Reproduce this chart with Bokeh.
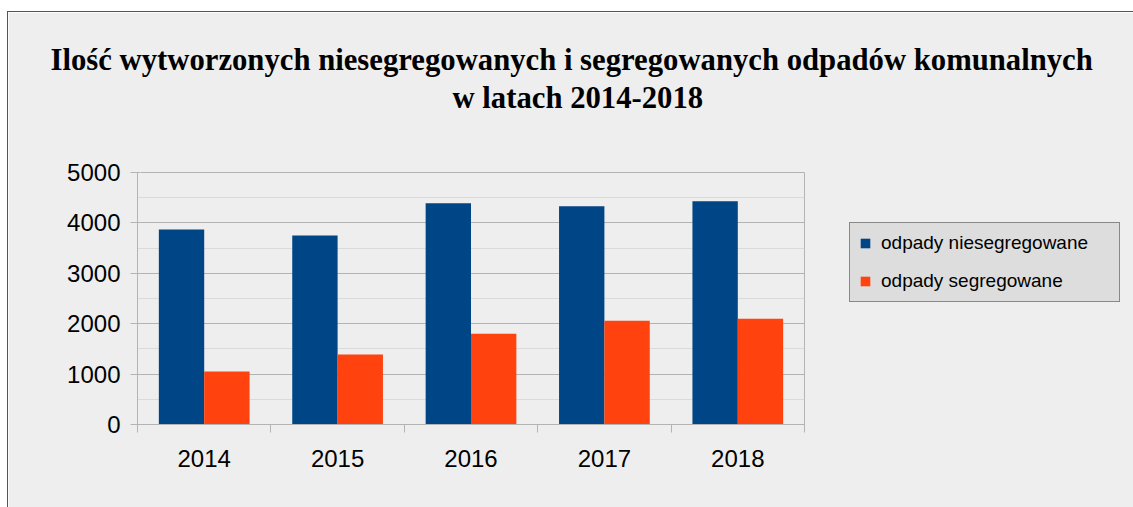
from bokeh.plotting import figure
from bokeh.models import (ColumnDataSource, Range1d, FixedTicker, LinearAxis, Title,
                          Legend, LegendItem, Grid)
from bokeh.embed import file_html
from bokeh.resources import INLINE

years = ["2014", "2015", "2016", "2017", "2018"]
niesegregowane = [3870, 3750, 4390, 4330, 4430]
segregowane = [1050, 1390, 1800, 2060, 2100]
y_ticks = [0, 1000, 2000, 3000, 4000, 5000]
y_minor = [500, 1500, 2500, 3500, 4500]
title_lines = ["Ilość wytworzonych niesegregowanych i segregowanych odpadów komunalnych",
               "w latach 2014-2018"]
series_names = ["odpady niesegregowane", "odpady segregowane"]

BLUE = "#004586"
ORANGE = "#ff420e"
BG = "#eeeeee"
GRID = "#b3b3b3"

n = len(years)
centers = [i + 0.5 for i in range(n)]
src = ColumnDataSource(dict(
    xb=[c - 0.17 for c in centers],
    xo=[c + 0.17 for c in centers],
    n=niesegregowane, s=segregowane))

p = figure(frame_width=667, frame_height=252,
           min_border_left=129, min_border_right=329,
           min_border_top=160, min_border_bottom=83,
           output_backend="svg", toolbar_location=None,
           x_range=Range1d(0, n), y_range=Range1d(0, 5000),
           x_axis_type=None, y_axis_type=None, title=None)
p.background_fill_color = BG
p.border_fill_color = BG
p.outline_line_color = GRID
p.styles = {"margin-top": "11px", "margin-left": "7px",
            "border-top": "1px solid #555555", "border-left": "1px solid #555555"}

# y axis
yaxis = LinearAxis(ticker=FixedTicker(ticks=y_ticks, minor_ticks=y_minor))
yaxis.axis_line_color = GRID
yaxis.major_tick_line_color = GRID
yaxis.major_tick_out = 7
yaxis.major_tick_in = 0
yaxis.minor_tick_out = 0
yaxis.minor_tick_in = 0
yaxis.major_label_standoff = 10
yaxis.major_label_text_font = "Liberation Sans"
yaxis.major_label_text_font_size = "24px"
yaxis.major_label_text_color = "#000000"
p.add_layout(yaxis, "left")

grid = Grid(dimension=1, ticker=yaxis.ticker)
grid.grid_line_color = GRID
grid.minor_grid_line_color = "#dadada"
p.add_layout(grid)

# x axis: boundary ticks (no labels)
bticks = list(range(n + 1))
xb_axis = LinearAxis(ticker=FixedTicker(ticks=bticks, minor_ticks=[]),
                     major_label_overrides={t: "" for t in bticks})
xb_axis.axis_line_color = GRID
xb_axis.major_tick_line_color = GRID
xb_axis.major_tick_out = 8
xb_axis.major_tick_in = 0
xb_axis.major_label_text_font_size = "1px"
xb_axis.major_label_standoff = 0
p.add_layout(xb_axis, "below")

# x axis: category labels
xl_axis = LinearAxis(ticker=FixedTicker(ticks=centers, minor_ticks=[]),
                     major_label_overrides={c: y for c, y in zip(centers, years)})
xl_axis.axis_line_color = None
xl_axis.major_tick_line_color = None
xl_axis.major_tick_out = 0
xl_axis.major_tick_in = 0
xl_axis.major_label_standoff = 17
xl_axis.major_label_text_font = "Liberation Sans"
xl_axis.major_label_text_font_size = "24px"
xl_axis.major_label_text_color = "#000000"
p.add_layout(xl_axis, "below")

rb = p.vbar(x="xb", top="n", width=0.34, source=src, fill_color=BLUE, line_color=None)
ro = p.vbar(x="xo", top="s", width=0.34, source=src, fill_color=ORANGE, line_color=None)

legend = Legend(items=[LegendItem(label=series_names[0], renderers=[rb]),
                       LegendItem(label=series_names[1], renderers=[ro])],
                location=(45, 122))
legend.background_fill_color = "#dddddd"
legend.background_fill_alpha = 1
legend.border_line_color = "#333333"
legend.label_text_font = "Liberation Sans"
legend.label_text_font_size = "19px"
legend.label_text_color = "#000000"
legend.glyph_width = 12
legend.glyph_height = 12
legend.label_standoff = 10
legend.label_height = 20
legend.label_width = 229
legend.spacing = 16
legend.padding = 9
legend.margin = 0
p.add_layout(legend, "right")

# invisible spacer between frame and title (one background-coloured tick)
gap = LinearAxis(ticker=FixedTicker(ticks=[0.02], minor_ticks=[]),
                 major_label_overrides={0.02: ""})
gap.axis_line_color = None
gap.major_tick_line_color = BG
gap.minor_tick_line_color = None
gap.major_tick_out = 57
gap.major_tick_in = 0
gap.minor_tick_out = 0
gap.major_label_standoff = 0
gap.major_label_text_font_size = "1px"
p.add_layout(gap, "above")

# title lines (nearest to frame first)
t2 = Title(text=title_lines[1], align="left", offset=315, standoff=2,
           text_font="Liberation Serif", text_font_style="bold",
           text_font_size="30.7px", text_color="#000000")
t1 = Title(text=title_lines[0], align="left", offset=-87, standoff=2,
           text_font="Liberation Serif", text_font_style="bold",
           text_font_size="30.7px", text_color="#000000")
p.add_layout(t2, "above")
p.add_layout(t1, "above")

open("out.html", "w").write(file_html(p, INLINE))
